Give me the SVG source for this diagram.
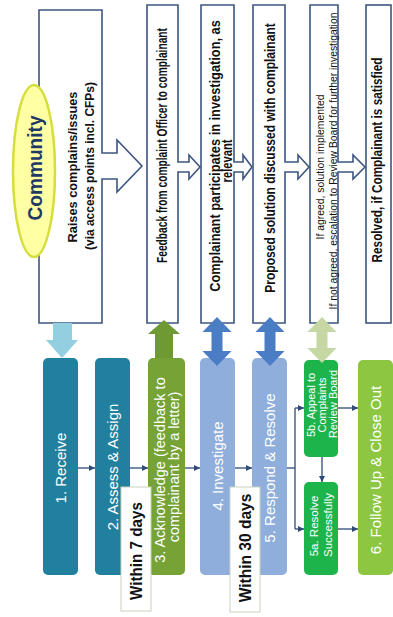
<svg xmlns="http://www.w3.org/2000/svg" width="393" height="617" viewBox="0 0 393 617">
<defs>
<style>
.box{fill:#fff;stroke:#3D5580;stroke-width:1.6}
.tb{font-family:"Liberation Sans",Arial,sans-serif;font-weight:bold;fill:#111;text-anchor:middle;dominant-baseline:central}
.tr{font-family:"Liberation Sans",Arial,sans-serif;fill:#111;text-anchor:middle;dominant-baseline:central}
.tw{font-family:"Liberation Sans",Arial,sans-serif;fill:#fff;text-anchor:middle;dominant-baseline:central}
.con{fill:none;stroke:#2E4A7A;stroke-width:1.3}
.tag{fill:#fff;stroke:#C9D2BD;stroke-width:1}
</style>
<marker id="ah" viewBox="0 0 8 8" refX="8" refY="4" markerWidth="6" markerHeight="6" orient="auto" markerUnits="userSpaceOnUse">
<path d="M0,0 L8,4 L0,8 Z" fill="#2E4A7A"/>
</marker>
</defs>

<g id="community">
<path class="box" stroke-width="2" d="M39,10 H102 V153 H117 V140 L142,166 L117,192 V179 H102 V323 H39 Z"/>
<ellipse cx="34" cy="171" rx="21" ry="86" fill="#FFFFA3" stroke="#D5DE3C" stroke-width="2.5"/>
<text class="tb" style="fill:#1F3864" font-size="20" transform="translate(35,168) rotate(-90) scale(0.955,1)">Community</text>
<text class="tb" font-size="13.5" transform="translate(72,167) rotate(-90) scale(0.945,1)">Raises complains/issues</text>
<text class="tb" font-size="13.5" transform="translate(89,166) rotate(-90) scale(0.885,1)">(via access points incl. CFPs)</text>
</g>

<g id="feedback">
<path class="box" d="M147,5 H178 V162 H189 V155 L200,167 L189,179 V172 H178 V323 H147 Z"/>
<text class="tb" font-size="14" transform="translate(162,145.5) rotate(-90) scale(0.73,1)">Feedback from complaint Officer to complainant</text>
</g>

<g id="participates">
<path class="box" d="M201,5 H234 V162 H243 V155 L252,167 L243,179 V172 H234 V323 H201 Z"/>
<text class="tb" font-size="14" transform="translate(215,156) rotate(-90) scale(0.915,1)">Complainant participates in investigation, as</text>
<text class="tb" font-size="14" transform="translate(228,161) rotate(-90) scale(0.8,1)">relevant</text>
</g>

<g id="proposed">
<path class="box" d="M253,5 H285 V162 H298 V155 L309,167 L298,179 V172 H285 V323 H253 Z"/>
<text class="tb" font-size="14" transform="translate(270,158) rotate(-90) scale(0.861,1)">Proposed solution discussed with complainant</text>
</g>

<g id="agreed">
<path class="box" d="M310,5 H338 V162 H353 V155 L365,167 L353,179 V172 H338 V323 H310 Z"/>
<text class="tr" font-size="10.5" transform="translate(320,167) rotate(-90) scale(0.99,1)">If agreed, solution implemented</text>
<text class="tr" font-size="10.5" transform="translate(333,161) rotate(-90) scale(0.985,1)">If not agreed, escalation to Review Board for further investigation</text>
</g>

<g id="resolved">
<rect class="box" x="366" y="5" width="25" height="318"/>
<text class="tb" font-size="14" transform="translate(377,160) rotate(-90) scale(0.842,1)">Resolved, if Complainant is satisfied</text>
</g>

<g id="receive">
<rect x="43" y="358" width="35" height="217" rx="5" fill="#22809F"/>
<text class="tw" font-size="15" transform="translate(60.5,468) rotate(-90)">1. Receive</text>
</g>
<g id="assess">
<rect x="95" y="358" width="35" height="217" rx="5" fill="#22809F"/>
<text class="tw" font-size="15" transform="translate(112.5,467) rotate(-90)">2. Assess &amp; Assign</text>
</g>
<g id="acknowledge">
<rect x="148" y="358" width="37" height="217" rx="5" fill="#76A236"/>
<text class="tw" font-size="14.5" transform="translate(159.5,470) rotate(-90)">3. Acknowledge (feedback to</text>
<text class="tw" font-size="14.5" transform="translate(174,467) rotate(-90)">complainant by a letter)</text>
</g>
<g id="investigate">
<rect x="200" y="358" width="35" height="217" rx="5" fill="#8FAEDB"/>
<text class="tw" font-size="15" transform="translate(217.5,466) rotate(-90)">4. Investigate</text>
</g>
<g id="respond">
<rect x="252" y="358" width="35" height="217" rx="5" fill="#8FAEDB"/>
<text class="tw" font-size="15" transform="translate(269.5,468) rotate(-90)">5. Respond &amp; Resolve</text>
</g>
<g id="appeal">
<rect x="304" y="360" width="34" height="97" rx="5" fill="#1DB44B"/>
<text class="tw" font-size="11" transform="translate(310.5,405) rotate(-90)">5b. Appeal to</text>
<text class="tw" font-size="11" transform="translate(321.5,405) rotate(-90)">Complaints</text>
<text class="tw" font-size="11" transform="translate(332.5,404) rotate(-90)">Review Board</text>
</g>
<g id="resolve-ok">
<rect x="304" y="482" width="34" height="93" rx="5" fill="#1DB44B"/>
<text class="tw" font-size="11.5" transform="translate(314,526) rotate(-90)">5a. Resolve</text>
<text class="tw" font-size="11.5" transform="translate(328,525) rotate(-90)">Successfully</text>
</g>
<g id="followup">
<rect x="358" y="360" width="35" height="215" rx="5" fill="#8DC641"/>
<text class="tw" font-size="15" transform="translate(375.5,470) rotate(-90)">6. Follow Up &amp; Close Out</text>
</g>

<g id="within7">
<rect class="tag" x="121" y="487" width="30" height="124"/>
<text class="tb" font-size="16" transform="translate(136,551) rotate(-90) scale(0.95,1)">Within 7 days</text>
</g>
<g id="within30">
<rect class="tag" x="230" y="487" width="30" height="125"/>
<text class="tb" font-size="16" transform="translate(245,548) rotate(-90) scale(0.973,1)">Within 30 days</text>
</g>

<g id="connectors">
<path d="M53,323 H72 V340 H78 L62,358 L46,340 H53 Z" fill="#92CFE0"/>
<path d="M164,320 L180,334 H173 V358 H155 V334 H148 Z" fill="#6F9A33"/>
<path d="M217,317 L231.5,332 H222.5 V351 H231.5 L217,366 L202.5,351 H211.5 V332 H202.5 Z" fill="#4A7DC4"/>
<path d="M270,317 L284.5,332 H275.5 V351 H284.5 L270,366 L255.5,351 H264.5 V332 H255.5 Z" fill="#4A7DC4"/>
<path d="M322,317 L336.5,332 H327.5 V348 H336.5 L322,363 L307.5,348 H316.5 V332 H307.5 Z" fill="#C5D8A3"/>
<path class="con" d="M78,468 H95" marker-end="url(#ah)"/>
<path class="con" d="M130,468 H148" marker-end="url(#ah)"/>
<path class="con" d="M185,468 H200" marker-end="url(#ah)"/>
<path class="con" d="M235,468 H252" marker-end="url(#ah)"/>
<path class="con" d="M287,468 H295"/>
<path class="con" d="M295,408 V529"/>
<path class="con" d="M295,408 H304" marker-end="url(#ah)"/>
<path class="con" d="M295,529 H304" marker-end="url(#ah)"/>
<path class="con" d="M322,457 V482" marker-end="url(#ah)"/>
<path class="con" d="M338,408 H358" marker-end="url(#ah)"/>
<path class="con" d="M338,529 H358" marker-end="url(#ah)"/>
</g>
</svg>
